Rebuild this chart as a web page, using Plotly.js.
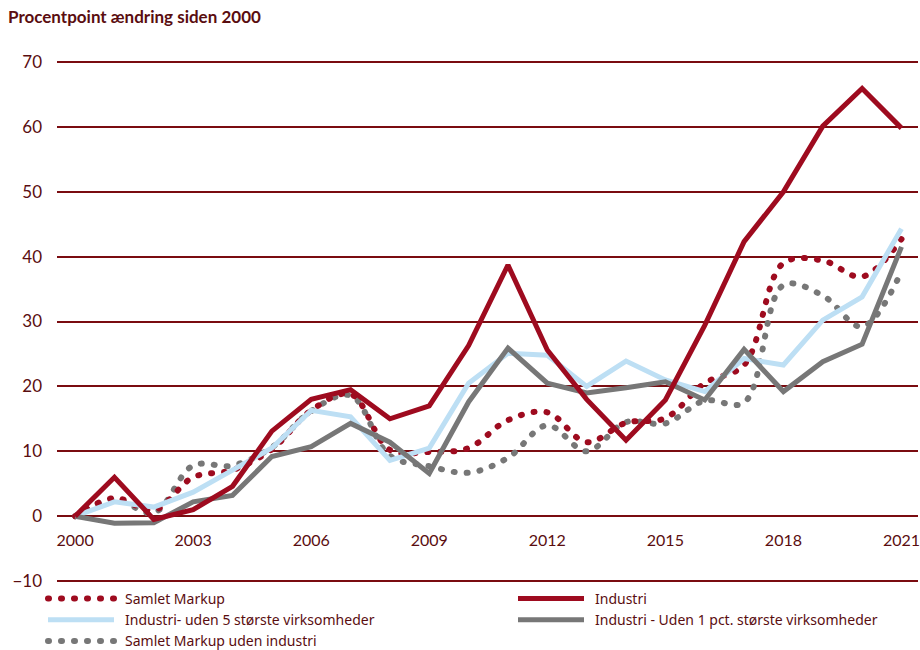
<!DOCTYPE html>
<html>
<head>
<meta charset="utf-8">
<script src="https://cdn.plot.ly/plotly-3.0.1.min.js"></script>
<style>
  html, body { margin: 0; padding: 0; background: #fff; }
  #chart { width: 920px; height: 650px; }
</style>
</head>
<body>
<div id="chart"></div>
<script>
// years on the x axis
var years = [2000, 2001, 2002, 2003, 2004, 2005, 2006, 2007, 2008, 2009, 2010,
             2011, 2012, 2013, 2014, 2015, 2016, 2017, 2018, 2019, 2020, 2021];
var yearTicks = [2000, 2003, 2006, 2009, 2012, 2015, 2018, 2021];
var yTicks = [-10, 0, 10, 20, 30, 40, 50, 60, 70];

// procentpoint change since 2000
var samletMarkup = [0, 2.8, 0.9, 6.0, 7.1, 10.3, 16.3, 18.8, 10.2, 9.9, 10.5,
                    14.8, 16.0, 11.4, 14.4, 15.1, 20.5, 23.3, 39.0, 39.4, 36.9, 42.7];
var industri = [0, 6.0, -0.5, 1.0, 4.6, 13.1, 18.0, 19.5, 15.0, 17.0, 26.3,
                38.7, 25.6, 18.0, 11.7, 17.9, 29.4, 42.3, 50.0, 60.1, 65.9, 59.8];
var industriUden5 = [0, 2.2, 1.4, 3.7, 7.1, 10.5, 16.3, 15.3, 8.6, 10.5, 20.5,
                     25.1, 24.8, 20.0, 23.9, 21.0, 19.2, 24.3, 23.3, 30.2, 33.8, 44.3];
var industriUden1pct = [0, -1.1, -1.0, 2.2, 3.2, 9.2, 10.7, 14.3, 11.4, 6.6, 17.6,
                        25.9, 20.5, 19.0, 19.8, 20.7, 17.9, 25.7, 19.2, 23.8, 26.5, 41.5];
var samletUdenIndustri = [0, 2.6, 0.5, 7.8, 7.8, 10.6, 16.2, 18.6, 9.3, 7.7, 6.7,
                          9.0, 14.0, 10.0, 14.5, 14.3, 17.8, 17.5, 35.6, 34.0, 29.2, 37.7];

var RED = '#9e0b1f';
var BLUE = '#bddff4';
var GREY = '#777777';
var GRID = '#7a0c10';
var TEXTRED = '#5a0d10';
var FONT = 'Lato, "Noto Sans", sans-serif';

// listed in drawing order (dotted under solid); legendrank gives legend order
var data = [
    {
        x: years, y: samletUdenIndustri, name: 'Samlet Markup uden industri',
        legend: 'legend', legendrank: 3,
        type: 'scatter', mode: 'lines',
        line: { color: GREY, width: 6, dash: '1px,12px', shape: 'spline', smoothing: 1 }
    },
    {
        x: years, y: samletMarkup, name: 'Samlet Markup',
        legend: 'legend', legendrank: 1,
        type: 'scatter', mode: 'lines',
        line: { color: RED, width: 6, dash: '1px,12px', shape: 'spline', smoothing: 1 }
    },
    {
        x: years, y: industriUden5, name: 'Industri- uden 5 største virksomheder',
        legend: 'legend', legendrank: 2,
        type: 'scatter', mode: 'lines',
        line: { color: BLUE, width: 5 }
    },
    {
        x: years, y: industriUden1pct, name: 'Industri - Uden 1 pct. største virksomheder',
        legend: 'legend2', legendrank: 2,
        type: 'scatter', mode: 'lines',
        line: { color: GREY, width: 5 }
    },
    {
        x: years, y: industri, name: 'Industri',
        legend: 'legend2', legendrank: 1,
        type: 'scatter', mode: 'lines',
        line: { color: RED, width: 5 }
    }
];

var legendFont = { family: 'Noto Sans, sans-serif', size: 14, color: TEXTRED };

var layout = {
    width: 920,
    height: 650,
    // y range is padded by 0.3 so the 70 and -10 grid lines are not clipped
    margin: { l: 57, r: 2, t: 60, b: 67, autoexpand: false },
    paper_bgcolor: '#ffffff',
    plot_bgcolor: '#ffffff',
    font: { family: FONT, size: 16, color: TEXTRED },
    title: {
        text: '<b>Procentpoint ændring siden 2000</b>',
        font: { family: FONT, size: 17, color: TEXTRED },
        xref: 'container', yref: 'container',
        x: 8 / 920, xanchor: 'left',
        y: 1 - 17 / 650, yanchor: 'middle'
    },
    xaxis: {
        range: [1999.54, 2021.42],
        tickvals: yearTicks,
        ticktext: yearTicks.map(String),
        showgrid: false,
        zeroline: false,
        showline: false,
        ticks: '',
        anchor: 'free',
        position: 10.3 / 80.6,
        ticklabelstandoff: 13,
        ticklabeloverflow: 'allow',
        tickfont: { family: FONT, size: 16, color: TEXTRED }
    },
    yaxis: {
        range: [-10.3, 70.3],
        tickvals: yTicks,
        showgrid: true,
        gridcolor: GRID,
        gridwidth: 2,
        zeroline: true,
        zerolinecolor: GRID,
        zerolinewidth: 2,
        showline: false,
        ticks: '',
        ticklabelstandoff: 14,
        tickfont: { family: FONT, size: 17, color: TEXTRED }
    },
    showlegend: true,
    legend: {
        x: 40 / 920, xref: 'container', xanchor: 'left',
        y: 1 - 583 / 650, yref: 'container', yanchor: 'top',
        orientation: 'v',
        traceorder: 'normal',
        itemwidth: 75,
        font: legendFont,
        bgcolor: 'rgba(0,0,0,0)'
    },
    legend2: {
        x: 510 / 920, xref: 'container', xanchor: 'left',
        y: 1 - 583 / 650, yref: 'container', yanchor: 'top',
        orientation: 'v',
        traceorder: 'normal',
        itemwidth: 75,
        font: legendFont,
        bgcolor: 'rgba(0,0,0,0)'
    },
    hovermode: false
};

var configuration = { displayModeBar: false, staticPlot: true };

Plotly.newPlot('chart', data, layout, configuration).then(function () {
    // long legend swatches like the original
    var swatches = document.querySelectorAll('.legendlines path');
    for (var i = 0; i < swatches.length; i++) {
        swatches[i].setAttribute('d', 'M8,0h66');
    }
    // round caps turn the short dashes into round dots
    var paths = document.querySelectorAll('.scatterlayer .js-line, .legendlines path');
    for (var j = 0; j < paths.length; j++) {
        if (paths[j].style.strokeDasharray && paths[j].style.strokeDasharray !== 'none') {
            paths[j].style.strokeLinecap = 'round';
        }
    }
});
</script>
</body>
</html>
